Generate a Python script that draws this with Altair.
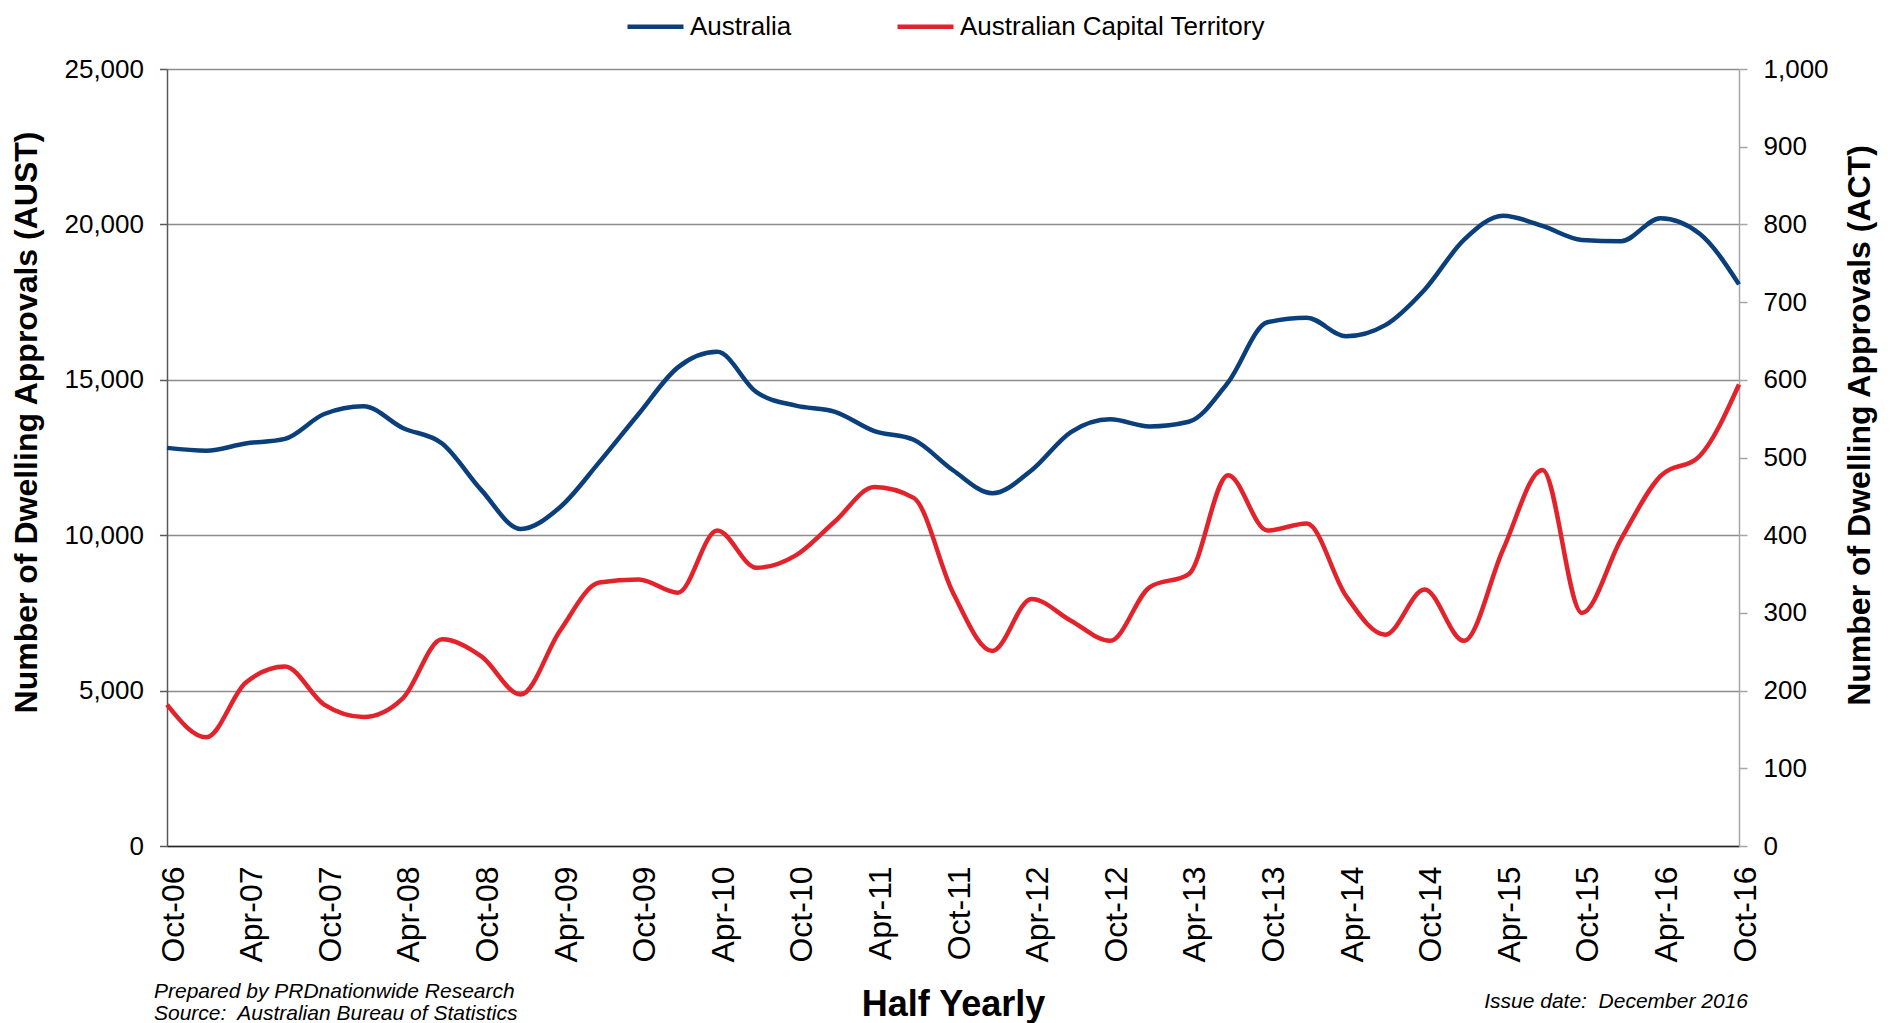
import altair as alt
import pandas as pd

# Quarterly observations, Oct-06 .. Oct-16 (41 points)
quarter_index = list(range(41))
australia = [12810, 12720, 12950, 13100, 13900, 14150, 13450, 12950, 11450, 10200,
             10900, 12350, 13900, 15400, 15900, 14600, 14170, 13970, 13350, 13070,
             12090, 11350, 12090, 13320, 13730, 13500, 13650, 14920, 16850, 17000,
             16400, 16760, 17900, 19500, 20280, 19950, 19500, 19460, 20200, 19700,
             18070]
act = [182, 140, 210, 231, 182, 166, 190, 266, 244, 195,
       277, 339, 343, 326, 406, 358, 374, 418, 462, 448,
       326, 251, 318, 290, 264, 333, 350, 477, 406, 415,
       322, 272, 330, 264, 382, 484, 300, 395, 476, 502,
       594]
tick_labels = ["Oct-06", "Apr-07", "Oct-07", "Apr-08", "Oct-08", "Apr-09", "Oct-09",
               "Apr-10", "Oct-10", "Apr-11", "Oct-11", "Apr-12", "Oct-12", "Apr-13",
               "Oct-13", "Apr-14", "Oct-14", "Apr-15", "Oct-15", "Apr-16", "Oct-16"]
series_names = ["Australia", "Australian Capital Territory"]
series_colors = ["#0B3F7C", "#E3232B"]
left_ticks = [0, 5000, 10000, 15000, 20000, 25000]
right_ticks = [0, 100, 200, 300, 400, 500, 600, 700, 800, 900, 1000]

df = pd.DataFrame({"idx": quarter_index, "aus": australia, "act": act})

FONT = "Liberation Sans"
label_expr = "[" + ",".join("'%s'" % t for t in tick_labels) + "][datum.value/2]"

x_enc = alt.X(
    "idx:Q",
    scale=alt.Scale(domain=[0, 40], nice=False, zero=False),
    axis=alt.Axis(
        values=list(range(0, 41, 2)), labelExpr=label_expr, labelAngle=270,
        labelAlign="right", labelBaseline="middle", labelFontSize=32,
        labelPadding=20, labelColor="#000000", labelFont=FONT, labelOffset=6,
        ticks=False, grid=False, domainColor="#262626", domainWidth=1.5,
        title="Half Yearly", titleFontSize=36, titleFontWeight="bold",
        titleFont=FONT, titleColor="#000000", titleY=169, titleBaseline="alphabetic",
        labelOverlap=False, labelFlush=False,
    ),
)

color_enc = alt.Color(
    "series:N",
    scale=alt.Scale(domain=series_names, range=series_colors),
    legend=alt.Legend(
        orient="none", legendX=458, legendY=-73, direction="horizontal", title=None,
        symbolType="stroke", symbolSize=3136, symbolStrokeWidth=4.5,
        labelFontSize=26, labelFont=FONT, labelColor="#000000", labelOffset=4,
        columnPadding=96, labelLimit=600,
    ),
)

aus_line = alt.Chart(df).transform_calculate(series="'Australia'").mark_line(
    strokeWidth=4.5, interpolate="monotone"
).encode(
    x=x_enc,
    y=alt.Y(
        "aus:Q",
        scale=alt.Scale(domain=[0, 25000], nice=False),
        axis=alt.Axis(
            orient="left", values=left_ticks, format=",.0f", labelFontSize=26,
            labelFont=FONT, labelColor="#000000", labelPadding=16, tickSize=7.5,
            tickColor="#595959", tickWidth=1.5, domainColor="#595959", domainWidth=1.5,
            grid=True, gridColor="#8C8C8C", gridWidth=1.5,
            title="Number of Dwelling Approvals (AUST)", titleFontSize=32,
            titleFontWeight="bold", titleFont=FONT, titleColor="#000000",
            titleAngle=270, titleX=-124, titleY=353, titleBaseline="bottom",
            titleAlign="center",
        ),
    ),
    color=color_enc,
)

act_line = alt.Chart(df).transform_calculate(series="'Australian Capital Territory'").mark_line(
    strokeWidth=4.5, interpolate="monotone"
).encode(
    x=x_enc,
    y=alt.Y(
        "act:Q",
        scale=alt.Scale(domain=[0, 1000], nice=False),
        axis=alt.Axis(
            orient="right", values=right_ticks, format=",.0f", labelFontSize=26,
            labelFont=FONT, labelColor="#000000", labelPadding=16, tickSize=8,
            tickColor="#A6A6A6", tickWidth=1.5, domainColor="#A6A6A6", domainWidth=1.5,
            grid=False,
            title="Number of Dwelling Approvals (ACT)", titleFontSize=32,
            titleFontWeight="bold", titleFont=FONT, titleColor="#000000",
            titleAngle=270, titleX=137, titleY=356, titleBaseline="bottom",
            titleAlign="center",
        ),
    ),
    color=color_enc,
)

notes_left = alt.Chart(pd.DataFrame({"t": ["Prepared by PRDnationwide Research"]})).mark_text(
    align="left", baseline="middle", fontSize=21, fontStyle="italic", font=FONT, color="#000000"
).encode(text="t:N", x=alt.value(-13), y=alt.value(923))

notes_src = alt.Chart(pd.DataFrame({"t": ["Source:\u00a0 Australian Bureau of Statistics"]})).mark_text(
    align="left", baseline="middle", fontSize=21, fontStyle="italic", font=FONT, color="#000000"
).encode(text="t:N", x=alt.value(-13), y=alt.value(945))

notes_right = alt.Chart(pd.DataFrame({"t": ["Issue date:\u00a0 December 2016"]})).mark_text(
    align="right", baseline="middle", fontSize=21, fontStyle="italic", font=FONT, color="#000000"
).encode(text="t:N", x=alt.value(1581), y=alt.value(933))

chart = alt.layer(aus_line, act_line, notes_left, notes_src, notes_right).resolve_scale(
    y="independent"
).properties(
    width=1572, height=777,
    autosize=alt.AutoSizeParams(type="none"),
    padding={"left": 159, "top": 61, "right": 140, "bottom": 177},
).configure_view(stroke=None).configure(font=FONT)

chart.save("out.html", embed_options={"renderer": "svg", "actions": False})
